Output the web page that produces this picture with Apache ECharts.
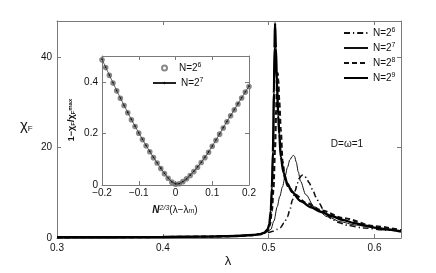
<!DOCTYPE html>
<html><head><meta charset="utf-8">
<script src="https://cdn.jsdelivr.net/npm/echarts@6/dist/echarts.min.js"></script>
<style>html,body{margin:0;padding:0;background:#fff}#c{width:436px;height:273px}</style>
</head><body><div id="c"></div>
<script>
// Main plot: chi_F vs lambda
const lam6 = [0.30,0.35,0.40,0.44,0.47,0.485,0.493,0.499,0.504,0.508,0.511,0.5145,0.5177,0.520,0.5224,0.525,0.527,0.529,0.531,0.532,0.534,0.536,0.538,0.5415,0.5446,0.548,0.551,0.555,0.559,0.565,0.575,0.59,0.61,0.625];
const chi6 = [0.15,0.18,0.22,0.3,0.45,0.65,0.9,1.2,1.5,1.9,2.3,3.3,4.7,6.2,8.4,10.4,12.1,13.2,13.8,13.9,13.7,13.1,12.3,10.7,9.1,7.6,6.5,5.1,4.3,3.5,2.8,2.2,1.8,1.6];
const lam7 = [0.30,0.35,0.40,0.44,0.47,0.485,0.493,0.498,0.502,0.505,0.508,0.5105,0.513,0.5155,0.5177,0.520,0.5224,0.5234,0.5245,0.526,0.528,0.530,0.535,0.543,0.5556,0.568,0.581,0.600,0.625];
const chi7 = [0.15,0.18,0.22,0.3,0.45,0.65,0.9,1.3,1.9,3.8,6.9,9.2,11.3,13.6,15.6,17.3,18.1,18.3,18.0,16.8,14.6,12.6,9.6,6.9,4.7,3.6,2.9,2.3,1.6];
const lam8 = [0.30,0.35,0.40,0.44,0.47,0.485,0.492,0.496,0.4995,0.501,0.503,0.5045,0.506,0.507,0.508,0.5085,0.509,0.510,0.5114,0.513,0.5155,0.518,0.525,0.535,0.550,0.570,0.600,0.625];
const chi8 = [0.15,0.18,0.22,0.3,0.45,0.65,0.85,1.2,1.7,2.8,6.0,11,20,28,34.5,36.5,35,30,24,17,13,11.5,9.6,7.8,6.1,4.4,2.6,1.7];
const lam9 = [0.30,0.35,0.40,0.44,0.47,0.485,0.492,0.496,0.499,0.5005,0.502,0.503,0.504,0.505,0.5055,0.506,0.5068,0.5077,0.509,0.510,0.5114,0.514,0.5177,0.522,0.530,0.540,0.549,0.560,0.570,0.581,0.590,0.600,0.610,0.625];
const chi9 = [0.15,0.18,0.22,0.3,0.45,0.65,0.85,1.2,1.9,3.0,6.0,11,19,32,42,47.5,42,35,27,23,18,14.5,12,10.2,8.2,6.8,5.8,4.8,4.0,3.3,2.8,2.3,1.9,1.4];
const mainXTicks = ['0.3','0.4','0.5','0.6'];
const mainYTicks = ['0','20','40'];

// Inset: 1 - chi_F/chi_F^max vs N^{2/3}(lambda - lambda_m)
const insetX = [-0.20,-0.19,-0.18,-0.17,-0.16,-0.15,-0.14,-0.13,-0.12,-0.11,-0.10,-0.09,-0.08,-0.07,-0.06,-0.05,-0.04,-0.03,-0.02,-0.01,0.00,0.01,0.02,0.03,0.04,0.05,0.06,0.07,0.08,0.09,0.10,0.11,0.12,0.13,0.14,0.15,0.16,0.17,0.18,0.19,0.20];
const inset6 = [0.485,0.455,0.425,0.395,0.365,0.336,0.308,0.280,0.253,0.227,0.201,0.176,0.152,0.129,0.106,0.085,0.064,0.044,0.026,0.011,0.003,0.005,0.013,0.024,0.037,0.052,0.069,0.087,0.106,0.127,0.150,0.173,0.197,0.221,0.245,0.268,0.291,0.314,0.337,0.360,0.382];
const inset7 = [0.487,0.456,0.426,0.396,0.366,0.337,0.309,0.281,0.254,0.228,0.202,0.177,0.153,0.130,0.107,0.086,0.065,0.045,0.027,0.012,0.004,0.005,0.013,0.024,0.038,0.053,0.070,0.088,0.107,0.128,0.151,0.174,0.198,0.222,0.246,0.269,0.292,0.315,0.338,0.361,0.383];
const insetXTicks = ['\u22120.2','\u22120.1','0','0.1','0.2'];
const insetYTicks = ['0','0.2','0.4'];

const zip = (a,b) => a.map((v,i)=>[v,b[i]]);
const FONT = 'Liberation Sans';
const AX = '#7a7a7a';
const labelNames = {m6:'N=2{s|6}', m7:'N=2{s|7}', m8:'N=2{s|8}', m9:'N=2{s|9}', i6:'N=2{s|6}', i7:'N=2{s|7}'};
const rich = {s:{fontSize:7, fontFamily:FONT, color:'#111', verticalAlign:'top', lineHeight:7}};

function boxAxes(gi, min, max, interval, isX, ticks, margin, fs, z) {
  const fmtIdx = v => {
    const k = Math.round((v - min)/interval);
    return Math.abs(min + k*interval - v) < 1e-9 && ticks[k] !== undefined ? ticks[k] : '';
  };
  const base = {
    gridIndex: gi, type:'value', min, max, interval, z,
    splitLine:{show:false},
    axisLine:{show:true, onZero:false, lineStyle:{color:AX, width:1}},
    axisTick:{show:true, inside:true, length:4, lineStyle:{color:AX}},
  };
  return [
    Object.assign({}, base, {position: isX?'bottom':'left',
      axisLabel:{show:true, margin, fontSize:fs, fontFamily:FONT, color:'#111', formatter: fmtIdx, showMaxLabel:true, showMinLabel:true}}),
    Object.assign({}, base, {position: isX?'top':'right', axisLabel:{show:false}})
  ];
}

const mx = boxAxes(0, 0.3, 0.625, 0.1, true, mainXTicks, 5, 10, 0);
const my = boxAxes(0, 0, 48, 20, false, mainYTicks, 5, 10, 0);
const ix = boxAxes(1, -0.2, 0.2, 0.1, true, insetXTicks, 3, 10, 6);
const iy = boxAxes(1, 0, 0.5, 0.2, false, insetYTicks, 4, 10, 6);

const legText = {fontSize:10, fontFamily:FONT, color:'#111', lineHeight:12, rich};
const chart = echarts.init(document.getElementById('c'), null, {renderer:'canvas'});
chart.setOption({
  animation:false,
  backgroundColor:'#fff',
  grid:[
    {left:57, top:21, right:35, bottom:35, show:false},
    {left:102, top:56, width:147, height:129, show:true, backgroundColor:'#fff', borderWidth:0, z:5}
  ],
  xAxis:[mx[0], mx[1], ix[0], ix[1]],
  yAxis:[my[0], my[1], iy[0], iy[1]],
  legend:[
    {data:['m6','m7','m8','m9'], orient:'vertical', left:343, top:27, itemWidth:24, itemHeight:10, itemGap:3,
     itemStyle:{opacity:0}, formatter: n=>labelNames[n], textStyle:legText, selectedMode:false, padding:0},
    {data:['i6'], orient:'vertical', left:161, top:62, itemWidth:5, itemHeight:5, itemGap:3,
     formatter: n=>labelNames[n], textStyle:Object.assign({}, legText, {padding:[0,0,0,7]}), selectedMode:false, padding:0, z:8},
    {data:['i7'], orient:'vertical', left:152, top:77, itemWidth:23, itemHeight:3, itemGap:3,
     formatter: n=>labelNames[n], textStyle:legText, selectedMode:false, padding:0, z:8}
  ],
  graphic:[
    {type:'text', left:20, top:118, style:{text:'χ{s|F}', font:'15px '+FONT, fill:'#111', rich:{s:{fontSize:8, fontFamily:FONT, fill:'#111', verticalAlign:'bottom', lineHeight:8}}}},
    {type:'text', x:228, y:261, style:{text:'λ', font:'13px '+FONT, fill:'#111', align:'center', verticalAlign:'middle'}},
    {type:'text', x:347, y:144, style:{text:'D=ω=1', font:'10px '+FONT, fill:'#111', align:'center', verticalAlign:'middle'}},
    {type:'text', x:175, y:210, z:9, style:{text:'{i|N}{s|2/3}(λ−λ{b|m})', font:'10px '+FONT, fill:'#111', align:'center', verticalAlign:'middle',
      rich:{i:{fontSize:10, fontStyle:'italic', fontWeight:'bold', fontFamily:FONT}, s:{fontSize:7, fontStyle:'italic', fontFamily:FONT, verticalAlign:'top', lineHeight:7}, b:{fontSize:7, fontStyle:'italic', fontFamily:FONT, verticalAlign:'bottom', lineHeight:7}}}},
    {type:'text', x:72, y:120, rotation:Math.PI/2, z:9, style:{text:'1−χ{b|F}/χ{b|F}{s|max}', font:'bold 9px '+FONT, fill:'#111', align:'center', verticalAlign:'middle',
      rich:{s:{fontSize:6, fontWeight:'bold', fontFamily:FONT, verticalAlign:'top', lineHeight:6}, b:{fontSize:6, fontWeight:'bold', fontFamily:FONT, verticalAlign:'bottom', lineHeight:6}}}}
  ],
  series:[
    {name:'m6', type:'line', xAxisIndex:0, yAxisIndex:0, data:zip(lam6,chi6), symbol:'none', smooth:0.3, smoothMonotone:'x',
      itemStyle:{color:'#111'}, lineStyle:{color:'#111', width:1.6, type:[6,3,1.2,3]}, z:3},
    {name:'m7', type:'line', xAxisIndex:0, yAxisIndex:0, data:zip(lam7,chi7), symbol:'none', smooth:0.3, smoothMonotone:'x',
      itemStyle:{color:'#111'}, lineStyle:{color:'#111', width:1}, z:3},
    {name:'m8', type:'line', xAxisIndex:0, yAxisIndex:0, data:zip(lam8,chi8), symbol:'none', smooth:0.3, smoothMonotone:'x',
      itemStyle:{color:'#111'}, lineStyle:{color:'#111', width:2.2, type:[5,3]}, z:3},
    {name:'m9', type:'line', xAxisIndex:0, yAxisIndex:0, data:zip(lam9,chi9), symbol:'none', smooth:0.3, smoothMonotone:'x',
      itemStyle:{color:'#000'}, lineStyle:{color:'#000', width:2.4}, z:4},
    {name:'i6', type:'scatter', xAxisIndex:2, yAxisIndex:2, data:zip(insetX,inset6), symbol:'emptyCircle', symbolSize:3.6,
      itemStyle:{color:'#6a6a6a', borderColor:'#6a6a6a', borderWidth:0.6}, z:7},
    {name:'i7', type:'line', xAxisIndex:2, yAxisIndex:2, data:zip(insetX,inset7), symbol:'circle', symbolSize:1.8, showSymbol:true,
      itemStyle:{color:'#111'}, lineStyle:{color:'#222', width:0.7}, z:8}
  ]
});
</script></body></html>
